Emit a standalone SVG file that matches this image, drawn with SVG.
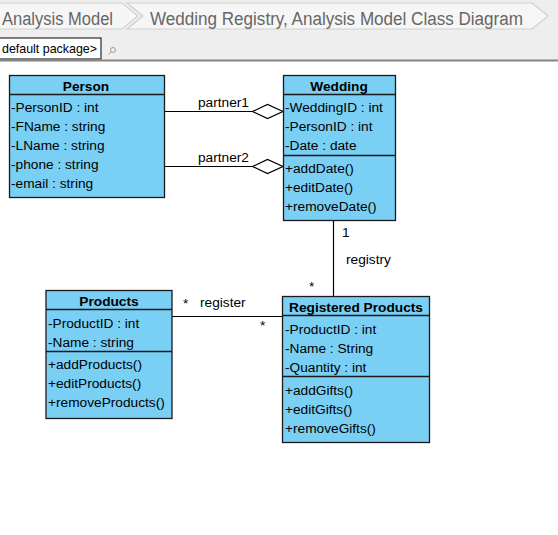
<svg xmlns="http://www.w3.org/2000/svg" width="558" height="535" viewBox="0 0 558 535">
<style>
.bc{font-family:"Liberation Sans",Arial,sans-serif;font-size:18px;fill:#666666}
.seg{fill:#f6f6f6;stroke:#cfcfcf;stroke-width:1.2}
.box{fill:#7acff5;stroke:#1a1a1a;stroke-width:1.3}
.sep{stroke:#1a1a1a;stroke-width:1.3}
.t{font-family:"Liberation Sans",Arial,sans-serif;font-size:13.7px;fill:#000}
.h{font-family:"Liberation Sans",Arial,sans-serif;font-size:13.7px;font-weight:bold;fill:#000;text-anchor:middle}
.ln{stroke:#000;stroke-width:1.2;fill:none}
.dia{fill:#fff;stroke:#000;stroke-width:1.2}
.lb{font-family:"Liberation Sans",Arial,sans-serif;font-size:13.7px;fill:#000}
</style>
<rect x="0" y="0" width="558" height="535" fill="#ffffff"/>
<g id="header">
<rect x="0" y="0" width="558" height="60" fill="#eeeeee"/>
<polygon class="seg" points="-2,3 122,3 138,16 122,29 -2,29"/>
<polygon class="seg" points="127,3 532,3 548,16 532,29 127,29 143,16"/>
<text class="bc" x="2" y="24.5" textLength="111" lengthAdjust="spacingAndGlyphs">Analysis Model</text>
<text class="bc" x="150" y="24.5" textLength="373" lengthAdjust="spacingAndGlyphs">Wedding Registry, Analysis Model Class Diagram</text>
<rect x="-1" y="38" width="102" height="21" fill="#ffffff" stroke="#000" stroke-width="1"/>
<text x="2" y="53" font-family="Liberation Sans, Arial, sans-serif" font-size="13" fill="#000" textLength="95" lengthAdjust="spacingAndGlyphs">default package&gt;</text>
<g stroke="#9a9a9a" stroke-width="1" fill="none">
<circle cx="113" cy="50" r="2.5"/>
<line x1="111" y1="52" x2="108.5" y2="54.5"/>
</g>
<rect x="0" y="59.5" width="558" height="2" fill="#858585"/>
</g>
<g id="connectors">
<line class="ln" x1="164" y1="111.5" x2="253" y2="111.5"/>
<polygon class="dia" points="252.5,111.5 267.5,104.5 283,111.5 267.5,118.5"/>
<text class="lb" x="198" y="107">partner1</text>
<line class="ln" x1="164" y1="166.5" x2="253" y2="166.5"/>
<polygon class="dia" points="252.5,166.5 267.5,159.5 283,166.5 267.5,173.5"/>
<text class="lb" x="198" y="162">partner2</text>
<line class="ln" x1="333.5" y1="221" x2="333.5" y2="296"/>
<text class="lb" x="342" y="237">1</text>
<text class="lb" x="346" y="264">registry</text>
<text class="lb" x="309" y="291">*</text>
<line class="ln" x1="172" y1="316.5" x2="282" y2="316.5"/>
<text class="lb" x="183" y="308">*</text>
<text class="lb" x="200" y="307">register</text>
<text class="lb" x="260" y="330">*</text>
</g>
<g id="person">
<rect class="box" x="9.5" y="75.5" width="155" height="122"/>
<line class="sep" x1="9.5" y1="94.5" x2="164.5" y2="94.5"/>
<text class="h" x="86" y="90.5">Person</text>
<text class="t" x="11" y="111.5">-PersonID : int</text>
<text class="t" x="11" y="130.5">-FName : string</text>
<text class="t" x="11" y="149.5">-LName : string</text>
<text class="t" x="11" y="168.5">-phone : string</text>
<text class="t" x="11" y="187.5">-email : string</text>
</g>
<g id="wedding">
<rect class="box" x="283.5" y="75.5" width="112" height="145"/>
<line class="sep" x1="283.5" y1="94.5" x2="395.5" y2="94.5"/>
<line class="sep" x1="283.5" y1="155.5" x2="395.5" y2="155.5"/>
<text class="h" x="339" y="90.5">Wedding</text>
<text class="t" x="285" y="111.5">-WeddingID : int</text>
<text class="t" x="285" y="130.5">-PersonID : int</text>
<text class="t" x="285" y="149.5">-Date : date</text>
<text class="t" x="285" y="172.5">+addDate()</text>
<text class="t" x="285" y="191.5">+editDate()</text>
<text class="t" x="285" y="210.5">+removeDate()</text>
</g>
<g id="products">
<rect class="box" x="46" y="290.5" width="126" height="128"/>
<line class="sep" x1="46" y1="309.5" x2="172" y2="309.5"/>
<line class="sep" x1="46" y1="351.5" x2="172" y2="351.5"/>
<text class="h" x="109" y="305.5">Products</text>
<text class="t" x="48" y="327.5">-ProductID : int</text>
<text class="t" x="48" y="346.5">-Name : string</text>
<text class="t" x="48" y="368.5">+addProducts()</text>
<text class="t" x="48" y="387.5">+editProducts()</text>
<text class="t" x="48" y="406.5">+removeProducts()</text>
</g>
<g id="registered-products">
<rect class="box" x="282.5" y="296.5" width="147" height="146"/>
<line class="sep" x1="282.5" y1="315.5" x2="429.5" y2="315.5"/>
<line class="sep" x1="282.5" y1="376.5" x2="429.5" y2="376.5"/>
<text class="h" x="356" y="311.5">Registered Products</text>
<text class="t" x="285" y="333.5">-ProductID : int</text>
<text class="t" x="285" y="352.5">-Name : String</text>
<text class="t" x="285" y="371.5">-Quantity : int</text>
<text class="t" x="285" y="394.5">+addGifts()</text>
<text class="t" x="285" y="413.5">+editGifts()</text>
<text class="t" x="285" y="432.5">+removeGifts()</text>
</g>
</svg>
